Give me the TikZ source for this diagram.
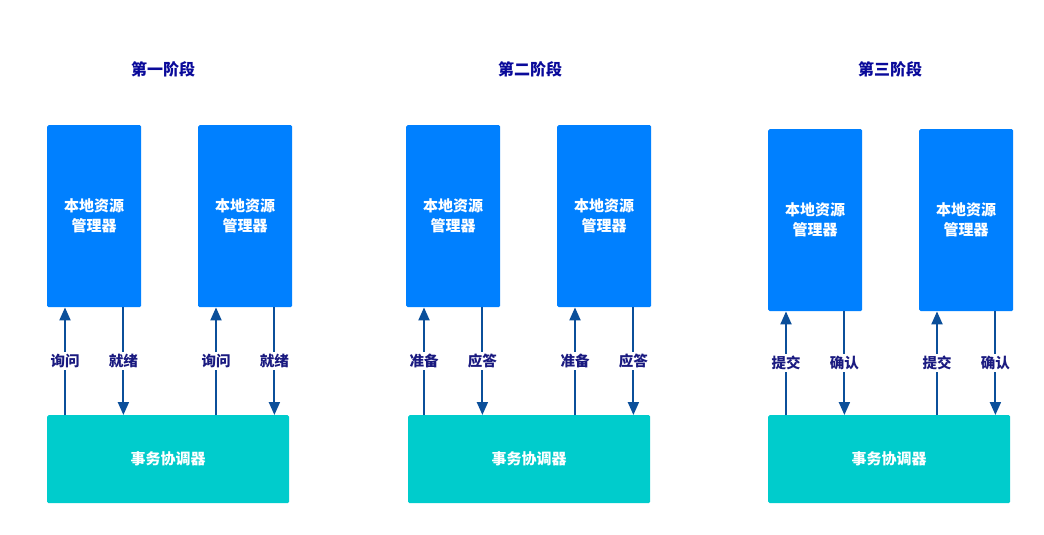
\documentclass[tikz,border=0pt]{standalone}
\usepackage{fontspec}
\setmainfont{Noto Sans CJK SC}
\usetikzlibrary{arrows.meta}
\definecolor{rmblue}{HTML}{0080FF}
\definecolor{tcteal}{HTML}{00CCCC}
\definecolor{msgblue}{HTML}{0B4F9A}
\definecolor{lblnavy}{HTML}{1A1A80}
\definecolor{stgblue}{HTML}{0A0A9A}
\tikzset{
    rm/.style={fill=rmblue,rounded corners=1.5pt,inner sep=0pt,minimum width=94pt,minimum height=182pt,
        anchor=north west,align=center,text=white,font=\bfseries\fontsize{15}{20}\selectfont},
    tc/.style={fill=tcteal,rounded corners=1.5pt,inner sep=0pt,minimum width=242pt,minimum height=88pt,
        anchor=north west,text=white,font=\bfseries\fontsize{15}{20}\selectfont},
    stg/.style={text=stgblue,font=\bfseries\fontsize{16}{18}\selectfont},
    msg/.style={msgblue,line width=2pt,-{Triangle[width=11pt,length=13pt]}},
    lbl/.style={fill=white,text=lblnavy,inner sep=2pt,font=\bfseries\fontsize{14.5}{16}\selectfont}
}

\begin{document}
\begin{tikzpicture}[x=1pt,y=-1pt]
    \useasboundingbox (0,0) rectangle (1044,535);
    \foreach \i/\bx/\by/\sx/\cx/\stage/\qry/\rpl in {
        1/47/125/163/47/第一阶段/询问/就绪,
        2/406/125/530/408/第二阶段/准备/应答,
        3/768/129/890/768/第三阶段/提交/确认} {
        \node [stg] (s\i) at (\sx,69) {\stage};
        \node [rm] (rm\i a) at (\bx,\by) {本地资源\\管理器};
        \node [rm] (rm\i b) at (\bx+151,\by) {本地资源\\管理器};
        \node [tc] (tc\i) at (\cx,415) {事务协调器};
        % arrow positions under each manager
        \path (rm\i a.south west) ++(18,0) coordinate (qa\i);
        \path (rm\i a.south east) ++(-18,0) coordinate (ra\i);
        \path (rm\i b.south west) ++(18,0) coordinate (qb\i);
        \path (rm\i b.south east) ++(-18,0) coordinate (rb\i);
        \draw [msg] (qa\i |- tc\i.north) -- (qa\i) node [lbl,midway] {\qry};
        \draw [msg] (ra\i) -- (ra\i |- tc\i.north) node [lbl,midway] {\rpl};
        \draw [msg] (qb\i |- tc\i.north) -- (qb\i) node [lbl,midway] {\qry};
        \draw [msg] (rb\i) -- (rb\i |- tc\i.north) node [lbl,midway] {\rpl};
    }
\end{tikzpicture}
\end{document}
